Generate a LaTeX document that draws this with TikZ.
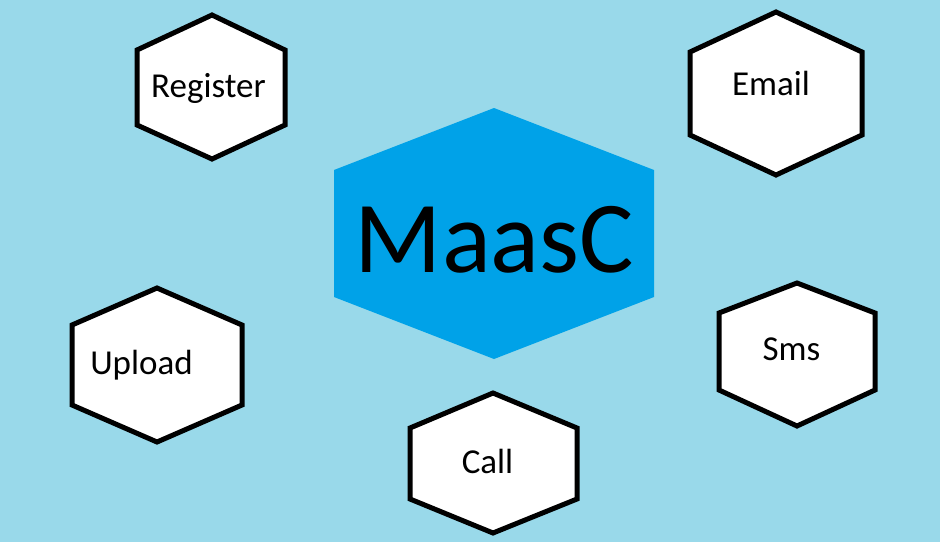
\documentclass[tikz,border=0pt]{standalone}
\usepackage{fontspec}
\setmainfont{Carlito}
\definecolor{bgturq}{HTML}{99D9EA}
\definecolor{hubblue}{HTML}{00A2E8}
\begin{document}
\begin{tikzpicture}[x=1pt,y=-1pt,
  hexbox/.style={draw=black,line width=5pt,fill=white,line join=miter},
  hubhex/.style={fill=hubblue,draw=none},
  lbl/.style={anchor=base,inner sep=0pt,font=\fontsize{35}{40}\selectfont},
  hublbl/.style={anchor=base,inner sep=0pt,font=\fontsize{102}{110}\selectfont}]
\fill[bgturq] (0,0) rectangle (940,542);
\useasboundingbox (0,0) rectangle (940,542);
% central hexagon
\path[hubhex] (494,108) -- (654,170) -- (654,297) -- (494,359) -- (334,297) -- (334,170) -- cycle;
% outer hexagons
\path[hexbox] (212,15) -- (285,50) -- (285,125) -- (212,159) -- (137,125) -- (137,50) -- cycle;
\path[hexbox] (776,12) -- (862,52) -- (862,135) -- (776,175) -- (690,135) -- (690,52) -- cycle;
\path[hexbox] (157,288) -- (242,325) -- (242,405) -- (157,442) -- (72,405) -- (72,325) -- cycle;
\path[hexbox] (797,283) -- (875,313) -- (875,390) -- (797,426) -- (719,390) -- (719,313) -- cycle;
\path[hexbox] (493,393) -- (577,428) -- (577,499) -- (493,533) -- (410,499) -- (410,428) -- cycle;
% labels
\node[hublbl] (hub) at (494.5,272) {MaasC};
\node[lbl] (register) at (208.5,97) {Register};
\node[lbl] (email) at (771,95) {Email};
\node[lbl] (upload) at (141.5,374) {Upload};
\node[lbl] (sms) at (791.5,360) {Sms};
\node[lbl] (call) at (487.5,473) {Call};
\end{tikzpicture}
\end{document}
